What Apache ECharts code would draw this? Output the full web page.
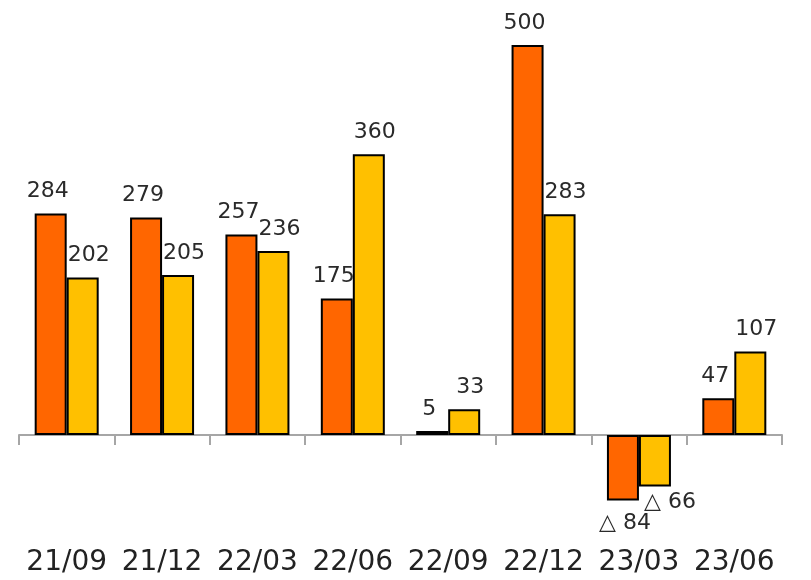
<!DOCTYPE html>
<html><head><meta charset="utf-8">
<script src="https://cdn.jsdelivr.net/npm/echarts@6/dist/echarts.min.js"></script>
<style>html,body{margin:0;padding:0;background:#fff}#c{width:811px;height:580px}</style>
</head><body><div id="c"></div>
<script>
const categories = ['21/09','21/12','22/03','22/06','22/09','22/12','23/03','23/06'];
const seriesA = [284, 279, 257, 175, 5, 500, -84, 47];
const seriesB = [202, 205, 236, 360, 33, 283, -66, 107];

const fmt = p => p.value < 0 ? '△ ' + Math.abs(p.value) : String(p.value);
function items(values, negDx, negDist) {
  return values.map(v => v < 0
    ? { value: v, label: { position: 'bottom', distance: negDist, offset: [negDx, 0] } }
    : v);
}
function lbl(dx) {
  return {
    show: true, position: 'top', distance: 11, offset: [dx, 0],
    fontFamily: 'DejaVu Sans', fontSize: 22, color: '#2a2a2a', formatter: fmt
  };
}
const chart = echarts.init(document.getElementById('c'));
chart.setOption({
  animation: false,
  grid: { left: 19, right: 29, top: 45, bottom: 40, containLabel: false },
  xAxis: [
    { type: 'category', data: categories,
      axisLine: { onZero: true, lineStyle: { color: '#a6a6a6', width: 2 } },
      axisTick: { show: true, length: 10, lineStyle: { color: '#a6a6a6', width: 2 } },
      axisLabel: { show: false } },
    { type: 'category', data: categories, position: 'bottom',
      axisLine: { show: false }, axisTick: { show: false },
      axisLabel: { show: true, interval: 0, margin: 9, fontFamily: 'DejaVu Sans', fontSize: 28, color: '#222' } }
  ],
  yAxis: { type: 'value', min: -134.6, max: 500, show: false, splitLine: { show: false } },
  series: [
    { type: 'bar', xAxisIndex: 0, data: items(seriesA, 2, 12), barWidth: 32, barGap: '0%',
      itemStyle: { color: '#FF6600', borderColor: '#000', borderWidth: 2 },
      label: lbl(-3) },
    { type: 'bar', xAxisIndex: 0, data: items(seriesB, 15, 5), barWidth: 32, barGap: '0%',
      itemStyle: { color: '#FFC000', borderColor: '#000', borderWidth: 2 },
      label: lbl(6) }
  ]
});
</script></body></html>
